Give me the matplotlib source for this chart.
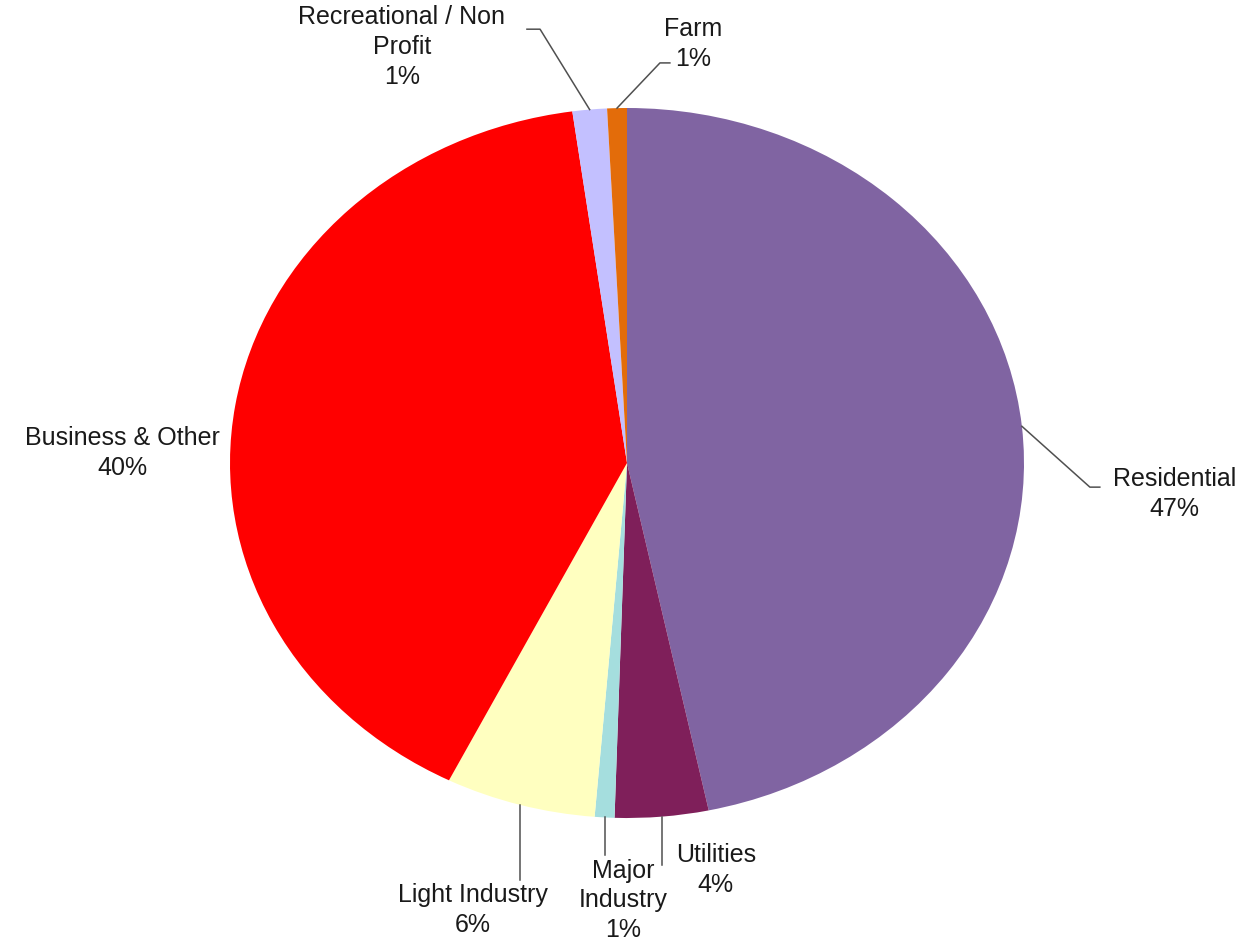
import matplotlib.pyplot as plt
import numpy as np

# slices, clockwise from 12 o'clock
labels = ['Residential', 'Utilities', 'Major\nIndustry', 'Light Industry',
          'Business & Other', 'Recreational / Non\nProfit', 'Farm']
shares = [46.7, 3.8, 0.8, 6.1, 40.4, 1.4, 0.8]
colors = ['#8064A2', '#7F1F5A', '#A5DEDE', '#FFFFC0', '#FF0000', '#C3C0FF', '#E36C0A']

# label text centre and leader elbow (data units, pie radius = 1)
# None for x means the leader drops straight down from the slice
text_pos = [(1.38, -0.087), (0.224, -1.146), (-0.010, -1.232), (-0.388, -1.259),
            (-1.272, 0.028), (-0.567, 1.172), (0.166, 1.180)]
elbows = [[(1.166, -0.068), (1.191, -0.068)],
          [(None, -1.132)],
          [(None, -1.105)],
          [(None, -1.175)],
          None,
          [(-0.219, 1.222), (-0.252, 1.222)],
          [(0.083, 1.127), (0.108, 1.127)]]

fig = plt.figure(figsize=(12.6, 9.43), dpi=100)
ax = fig.add_axes([0, 0, 1, 1])
plt.rcParams['font.family'] = ['Liberation Sans', 'DejaVu Sans']

wedges, _ = ax.pie(shares, colors=colors, startangle=90, counterclock=False,
                   wedgeprops=dict(linewidth=0))
ax.set_aspect('auto')
ax.set_xlim(-627 / 397, (1260 - 627) / 397)
ax.set_ylim((463 - 943) / 355, 463 / 355)
ax.axis('off')

total = sum(shares)
for w, lab, val, tp, el in zip(wedges, labels, shares, text_pos, elbows):
    ang = np.deg2rad((w.theta1 + w.theta2) / 2)
    if el is not None:
        x0, y0 = np.cos(ang), np.sin(ang)
        pts = [(x0, y0)] + [(x0 if px is None else px, py) for px, py in el]
        xs, ys = zip(*pts)
        ax.plot(xs, ys, color='#505050', lw=1.1)
    ax.text(tp[0], tp[1], f'{lab}\n{round(val / total * 100)}%',
            ha='center', va='center', multialignment='center',
            fontsize=18, color='#1a1a1a', linespacing=1.3)

fig.savefig('out.png', dpi=100)
